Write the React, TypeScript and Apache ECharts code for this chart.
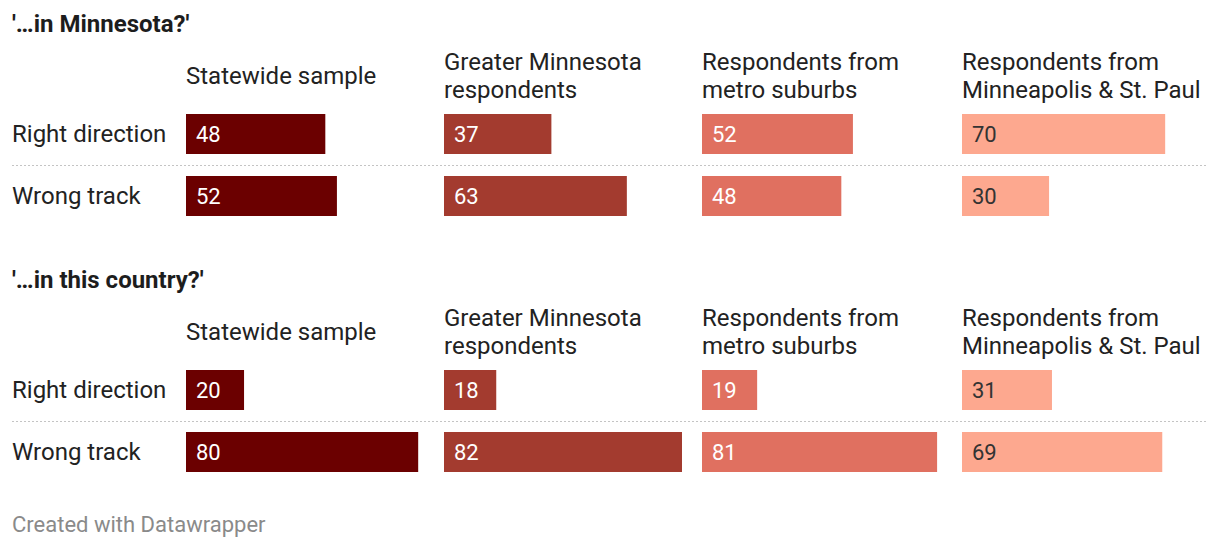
import React, { useEffect, useRef } from "react";
import * as echarts from "echarts";

const rowLabels = ["Right direction", "Wrong track"];
const sectionTitles = ["'…in Minnesota?'", "'…in this country?'"];
const groupHeaders = [
  "Statewide sample",
  "Greater Minnesota\nrespondents",
  "Respondents from\nmetro suburbs",
  "Respondents from\nMinneapolis & St. Paul",
];

// '…in Minnesota?'
const mnStatewide = [48, 52];
const mnGreater = [37, 63];
const mnSuburbs = [52, 48];
const mnCities = [70, 30];

// '…in this country?'
const usStatewide = [20, 80];
const usGreater = [18, 82];
const usSuburbs = [19, 81];
const usCities = [31, 69];

const sections = [
  [mnStatewide, mnGreater, mnSuburbs, mnCities],
  [usStatewide, usGreater, usSuburbs, usCities],
];

const colors = ["#6b0000", "#a33b2f", "#e07060", "#fda88f"];
const labelColors = ["#ffffff", "#ffffff", "#ffffff", "#333333"];
const colX = [186, 444, 702, 962];
const COL_W = 238;
const SECTION_DY = 256;
const FONT = "Roboto, 'Noto Sans', sans-serif";

export default function App() {
  const ref = useRef<HTMLDivElement>(null);
  useEffect(() => {
    if (!ref.current) return;
    const chart = echarts.init(ref.current, undefined, { renderer: "svg" });
    const grids: any[] = [];
    const xAxes: any[] = [];
    const yAxes: any[] = [];
    const series: any[] = [];
    const graphics: any[] = [];
    let idx = 0;
    sections.forEach((cols, s) => {
      const oy = s * SECTION_DY;
      graphics.push({
        type: "text",
        x: 12,
        y: 24 + oy,
        style: {
          text: sectionTitles[s],
          font: `bold 24px ${FONT}`,
          fill: "#1d1d1d",
          verticalAlign: "middle",
        },
      });
      groupHeaders.forEach((h, c) => {
        graphics.push({
          type: "text",
          x: colX[c],
          y: 76 + oy,
          style: {
            text: h,
            font: `24px ${FONT}`,
            lineHeight: 28,
            fill: "#222222",
            verticalAlign: "middle",
            align: "left",
          },
        });
      });
      graphics.push({
        type: "line",
        shape: { x1: 12, y1: 165.5 + oy, x2: 1208, y2: 165.5 + oy },
        style: { stroke: "#c4c4c4", lineWidth: 1.2, lineDash: [2, 2] },
      });
      cols.forEach((vals, c) => {
        grids.push({
          left: colX[c],
          top: 103 + oy,
          width: COL_W,
          height: 124,
        });
        xAxes.push({
          type: "value",
          gridIndex: idx,
          min: 0,
          max: 82,
          show: false,
        });
        yAxes.push({
          type: "category",
          gridIndex: idx,
          inverse: true,
          data: rowLabels,
          show: c === 0,
          axisLine: { show: false },
          axisTick: { show: false },
          splitLine: { show: false },
          axisLabel: {
            show: c === 0,
            align: "left",
            margin: colX[0] - 12,
            fontSize: 24,
            fontFamily: FONT,
            color: "#222222",
          },
        });
        series.push({
          type: "bar",
          xAxisIndex: idx,
          yAxisIndex: idx,
          data: vals,
          barWidth: 40,
          itemStyle: { color: colors[c] },
          label: {
            show: true,
            position: "insideLeft",
            distance: 10,
            formatter: "{c}",
            fontSize: 22,
            fontFamily: FONT,
            color: labelColors[c],
          },
        });
        idx++;
      });
    });
    graphics.push({
      type: "text",
      x: 12,
      y: 524,
      style: {
        text: "Created with Datawrapper",
        font: `22px ${FONT}`,
        fill: "#8a8a8a",
        verticalAlign: "middle",
      },
    });
    chart.setOption({
      animation: false,
      backgroundColor: "#ffffff",
      grid: grids,
      xAxis: xAxes,
      yAxis: yAxes,
      series,
      graphic: graphics,
    });
    return () => chart.dispose();
  }, []);
  return (
    <div
      ref={ref}
      style={{ position: "fixed", left: 0, top: 0, width: 1220, height: 548 }}
    />
  );
}
